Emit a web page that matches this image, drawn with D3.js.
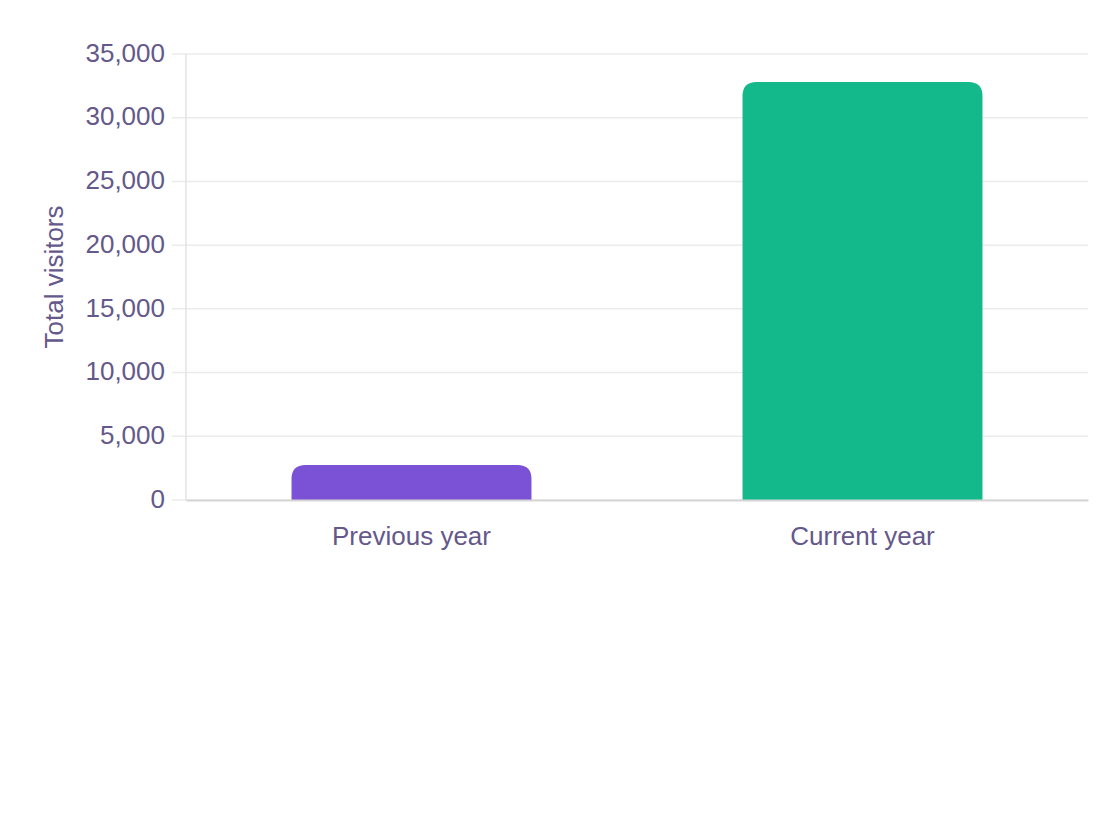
<!DOCTYPE html>
<html>
<head>
<meta charset="utf-8">
<script src="https://cdn.jsdelivr.net/npm/d3@7"></script>
<style>
  body { margin: 0; background: #fff; }
  text { font-family: "Liberation Sans", Arial, sans-serif; fill: #65588a; }
</style>
</head>
<body>
<script>
// Visitors, previous vs current year.
var categories = ['Previous year', 'Current year'],
    visitors = [2750, 32800],
    barColors = ['#7b51d5', '#13b98a'],
    yTicks = [0, 5000, 10000, 15000, 20000, 25000, 30000, 35000];

var width = 1120,
    height = 840,
    margin = { top: 54, right: 32, bottom: 340, left: 186 },
    innerW = width - margin.left - margin.right,
    innerH = height - margin.top - margin.bottom,
    radius = 14,
    fontSize = 26;

var svg = d3.select('body').append('svg')
  .attr('width', width)
  .attr('height', height);

var g = svg.append('g')
  .attr('transform', 'translate(' + margin.left + ',' + margin.top + ')');

var x = d3.scaleBand()
  .domain(categories)
  .range([0, innerW])
  .paddingInner(0.468)
  .paddingOuter(0.234);

var y = d3.scaleLinear()
  .domain([0, 35000])
  .range([innerH, 0]);

// Gridlines (extend a little left of the axis as ticks).
g.append('g')
  .selectAll('line')
  .data(yTicks)
  .join('line')
    .attr('x1', -14)
    .attr('x2', innerW)
    .attr('y1', function (d) { return y(d); })
    .attr('y2', function (d) { return y(d); })
    .attr('stroke', '#ebebeb')
    .attr('stroke-width', 1.5);

// Y axis labels.
var yAxis = g.append('g')
  .call(d3.axisLeft(y).tickValues(yTicks).tickSize(0).tickPadding(21)
    .tickFormat(d3.format(',')));
yAxis.select('.domain').remove();
yAxis.selectAll('text')
  .attr('font-size', fontSize)
  .attr('font-family', '"Liberation Sans", Arial, sans-serif')
  .attr('fill', '#65588a')
  .attr('dy', '0.28em');

// Vertical axis line.
g.append('line')
  .attr('x1', 0).attr('x2', 0)
  .attr('y1', 0).attr('y2', innerH)
  .attr('stroke', '#e3e3e3')
  .attr('stroke-width', 1.5);

// Bars with rounded top corners.
function barPath(x0, y0, w, h, r) {
  r = Math.min(r, h, w / 2);
  return 'M' + x0 + ',' + (y0 + h) +
    'V' + (y0 + r) +
    'Q' + x0 + ',' + y0 + ' ' + (x0 + r) + ',' + y0 +
    'H' + (x0 + w - r) +
    'Q' + (x0 + w) + ',' + y0 + ' ' + (x0 + w) + ',' + (y0 + r) +
    'V' + (y0 + h) + 'Z';
}

g.append('g')
  .selectAll('path')
  .data(categories)
  .join('path')
    .attr('d', function (d, i) {
      return barPath(x(d), y(visitors[i]), x.bandwidth(), innerH - y(visitors[i]), radius);
    })
    .attr('fill', function (d, i) { return barColors[i]; });

// Bottom axis.
var xAxis = g.append('g')
  .attr('transform', 'translate(0,' + innerH + ')')
  .call(d3.axisBottom(x).tickSize(0).tickPadding(27));
xAxis.select('.domain')
  .attr('stroke', '#d6d6d6')
  .attr('stroke-width', 2);
xAxis.selectAll('text')
  .attr('font-size', fontSize)
  .attr('font-family', '"Liberation Sans", Arial, sans-serif')
  .attr('fill', '#65588a');

// Axis title.
svg.append('text')
  .attr('transform', 'translate(63,' + (margin.top + innerH / 2) + ') rotate(-90)')
  .attr('text-anchor', 'middle')
  .attr('font-size', fontSize)
  .text('Total visitors');
</script>
</body>
</html>
